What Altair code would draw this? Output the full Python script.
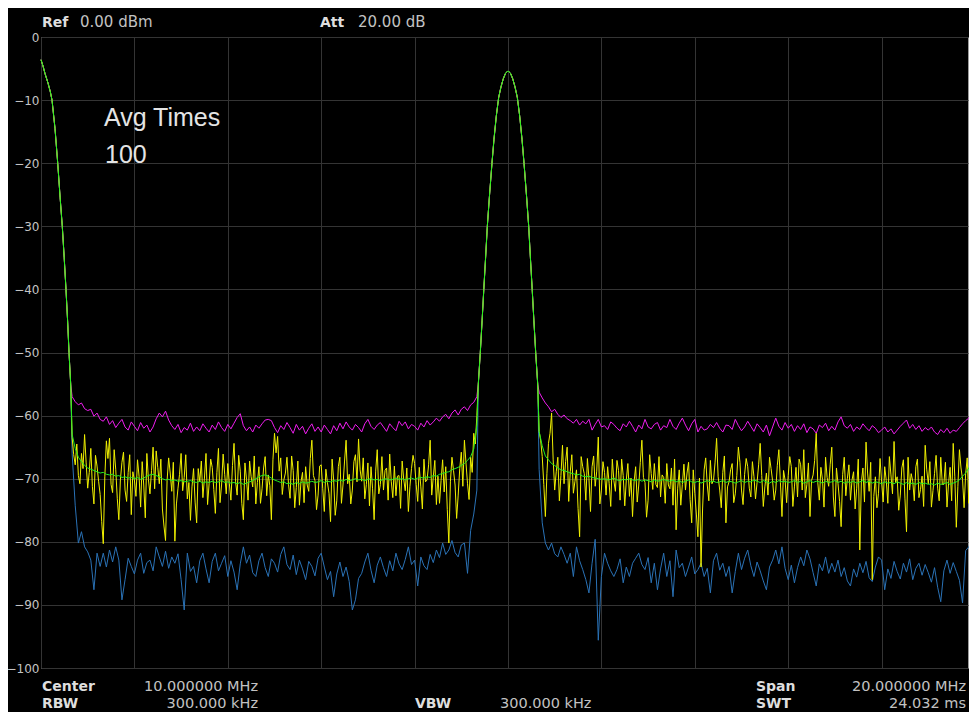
import altair as alt
import pandas as pd

# ---------------- data read from the screen ----------------
# sweep grid of the noise segments (MHz): analyzer points are 1/30 MHz apart
POINT = 1 / 30
LEFT_START = 20 * POINT      # first noise point left of the carrier
RIGHT_START = 320 * POINT    # first noise point right of the carrier

# falling skirt of the LO feed-through at 0 Hz (shared by all traces)
EDGE_F = [0, 0.043, 0.086, 0.15, 0.2, 0.236, 0.3, 0.358, 0.41, 0.456, 0.497, 0.535, 0.57, 0.6, 0.636]
EDGE_DB = [-3.6, -4.6, -5.8, -7.3, -8.7, -10, -14.5, -20, -25.5, -30, -35, -40, -45, -50, -55]

# 10 MHz carrier (shared by all traces)
PEAK_F = [9.364, 9.407, 9.445, 9.482, 9.52, 9.557, 9.6, 9.657, 9.7, 9.75, 9.8, 9.85, 9.9, 9.95, 10.0,
          10.05, 10.1, 10.15, 10.2, 10.25, 10.3, 10.343, 10.4, 10.443, 10.48, 10.518, 10.555, 10.593, 10.636]
PEAK_DB = [-55, -50, -45, -40, -35, -30, -25.5, -20, -16.2, -12.5, -9.6, -7.9, -6.6, -5.7, -5.4,
           -5.7, -6.6, -7.9, -9.6, -12.5, -16.2, -20, -25.5, -30, -35, -40, -45, -50, -55]

# noise segments, every 2nd analyzer point (left: 131 values, right: 141 values)
MAXHOLD_L = [
    -57.0, -57.8, -58.3, -58.0, -58.9, -59.2, -59.0, -60.1, -59.6, -60.6,
    -60.9, -60.2, -61.4, -60.8, -61.9, -61.2, -60.6, -61.8, -62.3, -61.0,
    -61.7, -62.4, -61.1, -62.0, -61.5, -62.6, -61.8, -60.5, -59.6, -60.2,
    -59.3, -60.7, -61.6, -62.2, -61.4, -62.7, -61.9, -62.3, -61.2, -62.5,
    -61.8, -62.4, -61.3, -62.0, -62.6, -61.5, -62.2, -61.0, -61.9, -62.5,
    -61.4, -62.1, -61.2, -60.3, -59.7, -61.6, -62.4, -61.8, -62.6, -61.5,
    -62.0, -61.3, -60.7, -60.6, -60.8, -61.9, -62.7, -61.6, -62.2, -61.1,
    -61.9, -62.8, -61.4, -62.3, -61.7, -62.9, -62.0, -61.3, -62.5, -61.8,
    -62.6, -61.5, -62.2, -62.9, -61.6, -62.4, -61.2, -62.1, -61.0, -61.8,
    -62.3, -61.4, -61.9, -62.6, -61.3, -60.6, -61.7, -62.2, -61.5, -61.1,
    -61.8, -62.5, -61.3, -61.9, -62.4, -60.9, -61.6, -61.0, -62.1, -61.4,
    -61.7, -62.3, -61.2, -61.8, -60.8, -61.5, -61.0, -60.4, -60.9, -60.2,
    -59.8, -60.5, -59.6, -59.1, -59.9, -59.0, -58.6, -59.2, -58.3, -57.9,
    -57.0]
MAXHOLD_R = [
    -56.3, -57.2, -58.0, -58.6, -59.4, -59.0, -59.8, -60.3, -59.9, -60.5,
    -60.8, -61.2, -60.6, -61.5, -60.9, -61.3, -60.6, -62.3, -61.4, -60.6,
    -61.8, -61.6, -62.2, -61.0, -61.4, -62.0, -62.4, -61.3, -61.8, -60.9,
    -61.7, -62.6, -61.5, -62.1, -60.6, -61.8, -62.1, -61.4, -61.1, -62.3,
    -61.6, -61.9, -60.6, -61.7, -62.2, -61.2, -60.4, -61.5, -62.4, -61.3,
    -60.6, -62.6, -61.7, -62.3, -62.1, -61.4, -61.9, -61.1, -62.0, -62.6,
    -61.5, -61.6, -62.2, -60.6, -61.6, -62.4, -61.8, -60.9, -61.7, -62.5,
    -61.3, -61.9, -62.6, -61.5, -63.2, -61.8, -60.4, -61.7, -62.3, -61.1,
    -62.0, -61.4, -62.5, -61.6, -62.2, -61.3, -62.7, -61.8, -62.1, -62.8,
    -61.5, -61.9, -61.2, -62.4, -61.7, -62.3, -61.0, -60.2, -61.6, -62.0,
    -61.4, -62.5, -61.8, -62.2, -61.3, -61.9, -62.4, -61.6, -62.0, -62.7,
    -62.3, -61.8, -62.6, -62.1, -62.9, -62.3, -61.7, -61.2, -60.7, -62.0,
    -61.4, -62.2, -61.6, -62.5, -61.9, -62.3, -61.8, -62.6, -63.0, -62.2,
    -62.7, -62.0, -62.8, -62.3, -62.5, -61.9, -61.3, -60.8, -60.4, -59.4,
    -58.3]

CLEAR_L = [
    -63.5, -67.8, -69.5, -66.0, -63.0, -71.5, -65.2, -74.0, -68.0, -72.5,
    -80.3, -64.0, -63.6, -72.2, -68.5, -76.5, -67.4, -71.8, -69.0, -75.7,
    -70.2, -67.0, -74.5, -71.0, -66.0, -72.4, -65.0, -65.6, -70.8, -74.8,
    -79.8, -66.7, -72.0, -79.9, -71.5, -66.0, -69.8, -73.2, -76.6, -68.4,
    -77.0, -70.5, -73.0, -66.0, -70.8, -68.2, -75.5, -65.2, -71.0, -69.3,
    -67.6, -73.4, -64.4, -72.6, -68.8, -76.5, -70.1, -67.2, -71.3, -74.0,
    -68.1, -71.6, -66.5, -69.4, -76.5, -62.8, -63.3, -66.7, -70.2, -66.6,
    -73.1, -68.7, -71.4, -74.2, -69.0, -68.1, -72.0, -63.9, -70.3, -72.6,
    -67.8, -75.2, -70.6, -76.8, -70.2, -73.5, -66.6, -71.0, -63.9, -69.3,
    -71.8, -66.2, -63.7, -70.4, -73.2, -67.5, -68.1, -76.5, -65.4, -70.9,
    -71.8, -68.3, -66.1, -73.0, -72.7, -69.5, -67.2, -71.9, -75.2, -68.4,
    -67.6, -73.6, -71.3, -66.9, -70.2, -63.9, -69.7, -74.1, -73.9, -67.0,
    -68.1, -80.2, -66.6, -71.0, -72.6, -65.8, -63.9, -70.8, -66.6, -62.8,
    -60.0]
# the clear/write trace is dense: its in-between points (left: 130, right: 140)
CLEAR_L_MID = [
    -66.2, -64.5, -70.8, -68.4, -67.5, -69.0, -71.2, -66.3, -70.4, -76.8,
    -69.7, -66.8, -70.9, -65.4, -73.1, -70.2, -65.8, -73.6, -66.2, -68.9,
    -72.8, -69.6, -67.3, -76.2, -70.1, -68.7, -71.6, -68.2, -66.9, -77.5,
    -70.3, -69.1, -67.4, -74.0, -69.3, -71.9, -66.2, -70.6, -71.3, -73.7,
    -68.4, -67.2, -69.9, -74.1, -66.9, -71.7, -69.0, -73.8, -66.1, -72.4,
    -70.8, -67.9, -70.5, -66.3, -73.9, -67.5, -73.4, -69.7, -66.4, -70.6,
    -73.9, -68.3, -72.7, -71.1, -67.0, -65.9, -68.8, -72.5, -69.1, -70.9,
    -66.4, -74.6, -67.2, -70.5, -73.8, -71.0, -66.8, -69.5, -74.9, -68.0,
    -71.6, -68.5, -72.3, -66.9, -75.8, -68.1, -73.9, -67.2, -70.8, -74.0,
    -67.3, -70.5, -68.6, -66.7, -70.9, -74.3, -71.6, -68.8, -72.4, -66.5,
    -68.7, -73.4, -70.4, -68.0, -69.6, -74.7, -70.1, -68.3, -71.2, -66.3,
    -70.9, -68.2, -74.8, -70.5, -67.8, -72.6, -67.1, -69.6, -70.3, -72.1,
    -74.9, -70.5, -68.7, -76.3, -68.4, -71.2, -67.5, -73.3, -69.0, -64.5]
CLEAR_R = [
    -62.5, -66.5, -76.0, -64.4, -59.6, -71.8, -66.6, -69.5, -70.8, -65.0,
    -68.9, -72.3, -68.6, -79.2, -68.1, -73.4, -70.0, -68.1, -71.2, -63.4,
    -71.8, -69.0, -68.1, -74.4, -70.3, -67.1, -73.4, -69.5, -70.2, -72.8,
    -76.0, -68.1, -71.0, -63.9, -70.6, -73.4, -69.2, -67.6, -71.4, -72.9,
    -69.8, -67.6, -71.6, -74.2, -78.1, -68.6, -70.9, -71.8, -67.4, -77.0,
    -72.3, -79.2, -84.0, -68.6, -71.0, -67.1, -70.3, -63.6, -71.8, -69.0,
    -77.0, -70.5, -67.6, -72.4, -65.0, -71.8, -69.3, -68.1, -72.9, -69.7,
    -70.6, -64.4, -74.4, -69.1, -66.6, -70.4, -71.8, -65.4, -76.0, -70.2,
    -69.5, -68.1, -71.3, -72.9, -67.8, -65.4, -70.9, -76.0, -69.4, -62.8,
    -73.4, -70.1, -66.6, -71.2, -65.0, -76.0, -70.8, -77.6, -66.6, -70.0,
    -73.4, -68.9, -71.5, -81.3, -68.3, -64.2, -72.0, -86.0, -69.7, -72.3,
    -70.5, -68.1, -73.9, -69.4, -64.1, -69.7, -72.6, -67.0, -78.4, -71.8,
    -70.4, -68.1, -73.0, -69.6, -64.7, -70.8, -74.5, -69.2, -71.5, -66.6,
    -70.9, -74.5, -68.2, -64.4, -77.7, -65.4, -70.1, -69.2, -73.9, -66.9,
    -75.5]
CLEAR_R_MID = [
    -64.0, -70.9, -69.2, -62.8, -66.9, -68.9, -73.5, -64.7, -67.3, -73.6,
    -66.2, -70.4, -74.7, -66.5, -69.2, -66.8, -75.2, -66.4, -68.8, -74.0,
    -67.3, -72.6, -70.8, -66.9, -72.0, -68.7, -66.9, -74.3, -67.6, -69.9,
    -70.5, -73.7, -67.4, -69.8, -76.1, -66.2, -71.7, -70.9, -66.5, -69.4,
    -73.9, -71.0, -68.3, -66.9, -71.5, -74.2, -67.7, -69.1, -73.3, -68.6,
    -75.6, -69.9, -74.8, -66.7, -73.5, -70.8, -67.5, -69.7, -74.6, -66.4,
    -71.3, -68.6, -73.8, -69.5, -67.4, -74.1, -66.8, -71.5, -67.3, -73.2,
    -67.8, -69.5, -71.3, -72.6, -68.4, -73.4, -67.9, -70.6, -68.7, -73.8,
    -66.5, -74.4, -68.2, -66.9, -71.8, -73.0, -67.5, -70.3, -67.1, -70.6,
    -68.2, -74.5, -69.8, -67.7, -72.9, -68.3, -73.6, -69.3, -72.7, -67.8,
    -70.2, -74.8, -66.9, -70.5, -73.7, -69.1, -67.4, -72.8, -74.6, -66.8,
    -73.7, -70.3, -66.5, -72.4, -70.6, -75.0, -68.3, -73.2, -66.6, -69.2,
    -73.5, -66.9, -71.7, -74.4, -68.6, -67.3, -71.9, -66.3, -73.5, -70.9,
    -67.4, -70.8, -73.5, -69.6, -71.2, -68.3, -74.6, -66.7, -70.2, -71.5]

AVERAGE_L = [
    -63.0, -65.2, -66.6, -67.3, -67.9, -68.3, -68.5, -68.7, -68.9, -69.1,
    -69.0, -69.3, -69.4, -69.3, -69.6, -69.5, -69.8, -69.7, -69.9, -69.8,
    -70.0, -69.8, -70.1, -69.9, -69.6, -69.4, -69.3, -69.5, -69.7, -70.0,
    -70.2, -70.1, -70.3, -70.2, -70.4, -70.3, -70.5, -70.4, -70.3, -70.5,
    -70.6, -70.4, -70.7, -70.5, -70.6, -70.4, -70.6, -70.5, -70.3, -70.6,
    -70.5, -70.7, -70.6, -70.8, -70.6, -70.9, -70.7, -70.5, -70.3, -70.0,
    -69.7, -69.5, -69.4, -69.6, -69.9, -70.2, -70.4, -70.6, -70.5, -70.8,
    -70.7, -70.9, -70.6, -70.8, -70.5, -70.7, -70.6, -70.4, -70.6, -70.5,
    -70.3, -70.6, -70.4, -70.5, -70.3, -70.4, -70.2, -70.4, -70.1, -70.3,
    -70.2, -70.0, -70.2, -70.1, -70.3, -70.1, -70.0, -70.2, -70.1, -70.3,
    -70.1, -70.0, -70.2, -70.1, -69.9, -70.1, -70.0, -70.2, -70.0, -69.9,
    -70.1, -69.9, -69.8, -69.9, -69.7, -69.8, -69.5, -69.6, -69.3, -69.2,
    -69.0, -68.9, -68.6, -68.4, -68.2, -67.9, -67.6, -67.1, -66.5, -65.3,
    -61.5]
AVERAGE_R = [
    -62.5, -64.8, -66.4, -67.0, -67.6, -67.9, -68.3, -68.6, -68.7, -68.9,
    -69.1, -69.2, -69.4, -69.3, -69.6, -69.7, -69.6, -69.8, -69.9, -70.0,
    -70.1, -70.0, -70.2, -70.1, -69.9, -70.2, -70.3, -70.1, -70.2, -70.0,
    -70.2, -70.3, -70.1, -70.4, -70.2, -70.3, -70.5, -70.2, -70.4, -70.3,
    -70.1, -70.3, -70.4, -70.2, -70.5, -70.3, -70.6, -70.4, -70.2, -70.5,
    -70.6, -70.4, -70.7, -70.5, -70.3, -70.5, -70.4, -70.6, -70.5, -70.3,
    -70.6, -70.4, -70.5, -70.7, -70.5, -70.3, -70.6, -70.4, -70.5, -70.2,
    -70.4, -70.6, -70.3, -70.5, -70.7, -70.4, -70.6, -70.3, -70.5, -70.4,
    -70.6, -70.5, -70.3, -70.6, -70.4, -70.7, -70.5, -70.3, -70.6, -70.4,
    -70.5, -70.7, -70.4, -70.6, -70.5, -70.3, -70.6, -70.4, -70.7, -70.5,
    -70.6, -70.4, -70.7, -70.5, -70.3, -70.6, -70.4, -70.7, -70.5, -70.6,
    -70.8, -70.5, -70.7, -70.6, -70.8, -70.5, -70.7, -70.9, -70.6, -70.8,
    -70.7, -70.9, -70.6, -70.8, -70.7, -70.9, -70.8, -71.0, -70.7, -70.9,
    -70.8, -70.6, -70.9, -70.7, -70.5, -70.2, -69.6, -69.1, -68.3, -67.6,
    -66.6]

MINHOLD_L = [
    -66.0, -74.3, -80.2, -78.4, -80.8, -81.6, -82.9, -87.6, -81.8, -83.9,
    -81.8, -84.0, -81.3, -83.2, -80.8, -82.9, -89.2, -86.0, -82.6, -83.9,
    -85.1, -82.9, -81.8, -85.0, -83.3, -82.9, -84.6, -80.8, -82.4, -83.9,
    -81.5, -84.2, -82.4, -83.4, -81.9, -86.0, -90.8, -81.8, -84.7, -83.9,
    -86.5, -83.0, -81.8, -84.3, -86.5, -83.1, -81.8, -84.6, -83.4, -82.2,
    -85.5, -83.0, -84.8, -87.6, -83.5, -80.8, -83.4, -82.1, -84.9, -85.5,
    -83.0, -81.8, -84.1, -85.5, -82.7, -83.4, -84.8, -82.0, -80.8, -83.6,
    -84.4, -82.1, -85.2, -82.9, -84.3, -86.0, -83.1, -83.9, -85.4, -82.6,
    -81.8, -84.0, -86.0, -84.7, -88.7, -85.1, -83.2, -85.5, -84.0, -86.3,
    -90.8, -89.2, -85.8, -85.0, -83.2, -81.8, -84.5, -86.5, -83.7, -82.4,
    -84.1, -85.5, -83.0, -84.6, -81.8, -83.5, -84.4, -82.8, -80.8, -83.6,
    -82.9, -87.0, -82.4, -83.8, -84.4, -82.0, -83.3, -81.3, -82.5, -80.2,
    -82.0, -81.3, -79.8, -81.7, -82.4, -80.5, -80.2, -85.0, -78.2, -75.6,
    -71.8]
MINHOLD_R = [
    -68.5, -77.0, -80.2, -81.3, -80.2, -81.9, -82.4, -80.8, -82.0, -83.4,
    -81.8, -85.5, -80.8, -83.0, -84.4, -86.0, -88.1, -83.4, -79.6, -95.6,
    -85.5, -81.8, -83.4, -84.6, -85.5, -84.4, -82.7, -86.5, -84.0, -85.5,
    -83.4, -82.6, -81.8, -83.6, -84.4, -82.5, -86.5, -83.4, -87.6, -84.3,
    -81.8, -85.5, -83.0, -88.7, -81.3, -84.1, -83.4, -85.5, -84.0, -82.4,
    -85.1, -84.4, -83.4, -85.5, -84.2, -88.1, -83.0, -81.8, -84.5, -83.4,
    -85.5, -83.9, -88.1, -84.7, -81.8, -84.4, -82.6, -81.3, -83.8, -85.5,
    -83.2, -84.6, -86.2, -87.6, -84.0, -82.9, -81.3, -83.5, -80.8, -84.2,
    -86.0, -83.7, -86.5, -84.1, -82.4, -83.8, -81.3, -82.7, -84.9, -87.0,
    -83.5, -84.6, -82.4, -85.0, -83.4, -84.8, -82.9, -85.5, -84.1, -86.2,
    -87.0, -84.3, -85.6, -83.4, -84.9, -83.1, -85.7, -86.3, -84.0, -82.4,
    -82.9, -87.6, -84.3, -85.8, -83.1, -84.7, -85.9, -83.4, -84.8, -82.7,
    -86.0, -84.2, -83.4, -85.3, -83.6, -84.9, -86.4, -84.1, -87.2, -89.5,
    -84.6, -82.9, -85.0, -83.3, -84.7, -86.1, -89.7, -81.4, -80.8, -79.7,
    -80.2]

Y_TICKS = [0, -10, -20, -30, -40, -50, -60, -70, -80, -90, -100]
X_GRID = [0, 2, 4, 6, 8, 10, 12, 14, 16, 18]
# the screen shows the sweep up to its right edge, which the capture cuts at ~19.85 MHz
VISIBLE_F = [0, 19.85]

# (text, page-x, page-y baseline, kind, align)
SCREEN_TEXT = [
    ("Ref", 42, 27, "key", "left"), ("0.00 dBm", 80, 27, "val", "left"),
    ("Att", 320, 27, "key", "left"), ("20.00 dB", 358, 27, "val", "left"),
    ("Avg Times", 104, 126, "big", "left"), ("100", 105, 163, "big", "left"),
    ("Center", 42, 691, "key", "left"), ("10.000000 MHz", 258, 691, "val2", "right"),
    ("RBW", 42, 708, "key", "left"), ("300.000 kHz", 258, 708, "val2", "right"),
    ("VBW", 415, 708, "key", "left"), ("300.000 kHz", 500, 708, "val2", "left"),
    ("Span", 756, 691, "key", "left"), ("20.000000 MHz", 966, 691, "val2", "right"),
    ("SWT", 756, 708, "key", "left"), ("24.032 ms", 966, 708, "val2", "right"),
]

# ---------------- build ----------------
assert len(MAXHOLD_L) == len(CLEAR_L) == len(AVERAGE_L) == len(MINHOLD_L) == 131
assert len(MAXHOLD_R) == len(CLEAR_R) == len(AVERAGE_R) == len(MINHOLD_R) == 141
assert len(CLEAR_L_MID) == 130 and len(CLEAR_R_MID) == 140


def trace_frame(left, right, left_mid=(), right_mid=()):
    f = list(EDGE_F) + list(PEAK_F)
    db = list(EDGE_DB) + list(PEAK_DB)
    f += [LEFT_START + 2 * POINT * i for i in range(len(left))]
    db += list(left)
    f += [LEFT_START + POINT * (2 * i + 1) for i in range(len(left_mid))]
    db += list(left_mid)
    f += [RIGHT_START + 2 * POINT * i for i in range(len(right))]
    db += list(right)
    f += [RIGHT_START + POINT * (2 * i + 1) for i in range(len(right_mid))]
    db += list(right_mid)
    return pd.DataFrame({"f": f, "db": db}).sort_values("f")


X0, Y0 = 41, 37          # page position of the plot's top-left corner
W, H = 927, 631          # plot area (right edge = the edge of the capture)
TOTAL_H = 704

xs = alt.Scale(domain=VISIBLE_F, nice=False, zero=False)
ys = alt.Scale(domain=[-100, 0], nice=False, zero=False)
x_axis = alt.Axis(values=X_GRID, labels=False, ticks=False, domain=False, title=None,
                  grid=True, gridColor="#343434", gridWidth=1)
y_axis = alt.Axis(values=Y_TICKS, ticks=False, tickSize=0, domain=False, title=None,
                  grid=True, gridColor="#343434", gridWidth=1,
                  labelFont="DejaVu Sans", labelFontSize=12, labelColor="#c4c4c4",
                  labelPadding=2, labelFlush=False, labelOverlap=False)


def trace(frame, color):
    return alt.Chart(frame).mark_line(
        color=color, strokeWidth=1, interpolate="linear"
    ).encode(
        x=alt.X("f:Q", scale=xs, axis=x_axis),
        y=alt.Y("db:Q", scale=ys, axis=y_axis),
        order="f:Q",
    )


layers = [
    trace(trace_frame(MINHOLD_L, MINHOLD_R), "#2a72b6"),
    trace(trace_frame(MAXHOLD_L, MAXHOLD_R), "#f01ef0"),
    trace(trace_frame(CLEAR_L, CLEAR_R, CLEAR_L_MID, CLEAR_R_MID), "#f0f000"),
    trace(trace_frame(AVERAGE_L, AVERAGE_R), "#22ee22"),
]

STYLE = {
    "key": dict(font="DejaVu Sans", fontSize=14, fontWeight="bold", color="#dedede"),
    "val": dict(font="DejaVu Sans", fontSize=15, fontWeight="normal", color="#c2c2c2"),
    "val2": dict(font="DejaVu Sans", fontSize=14.5, fontWeight="normal", color="#c2c2c2"),
    "big": dict(font="Liberation Sans", fontSize=25, fontWeight="normal", color="#e4e4e4"),
}
for txt, px, py, kind, align in SCREEN_TEXT:
    layers.append(
        alt.Chart(pd.DataFrame({"t": [txt]})).mark_text(
            align=align, baseline="alphabetic", **STYLE[kind]
        ).encode(x=alt.value(px - X0), y=alt.value(py - Y0), text="t:N")
    )

chart = alt.layer(*layers).properties(
    width=W, height=H,
    autosize=alt.AutoSizeParams(type="none"),
    padding={"left": X0 - 8, "top": Y0 - 8, "right": 1, "bottom": TOTAL_H - (Y0 - 8) - H},
).configure(background="#000000").configure_view(stroke="#9c9c9c", strokeWidth=1)

chart.save("out.html", embed_options={"renderer": "svg", "actions": False})
